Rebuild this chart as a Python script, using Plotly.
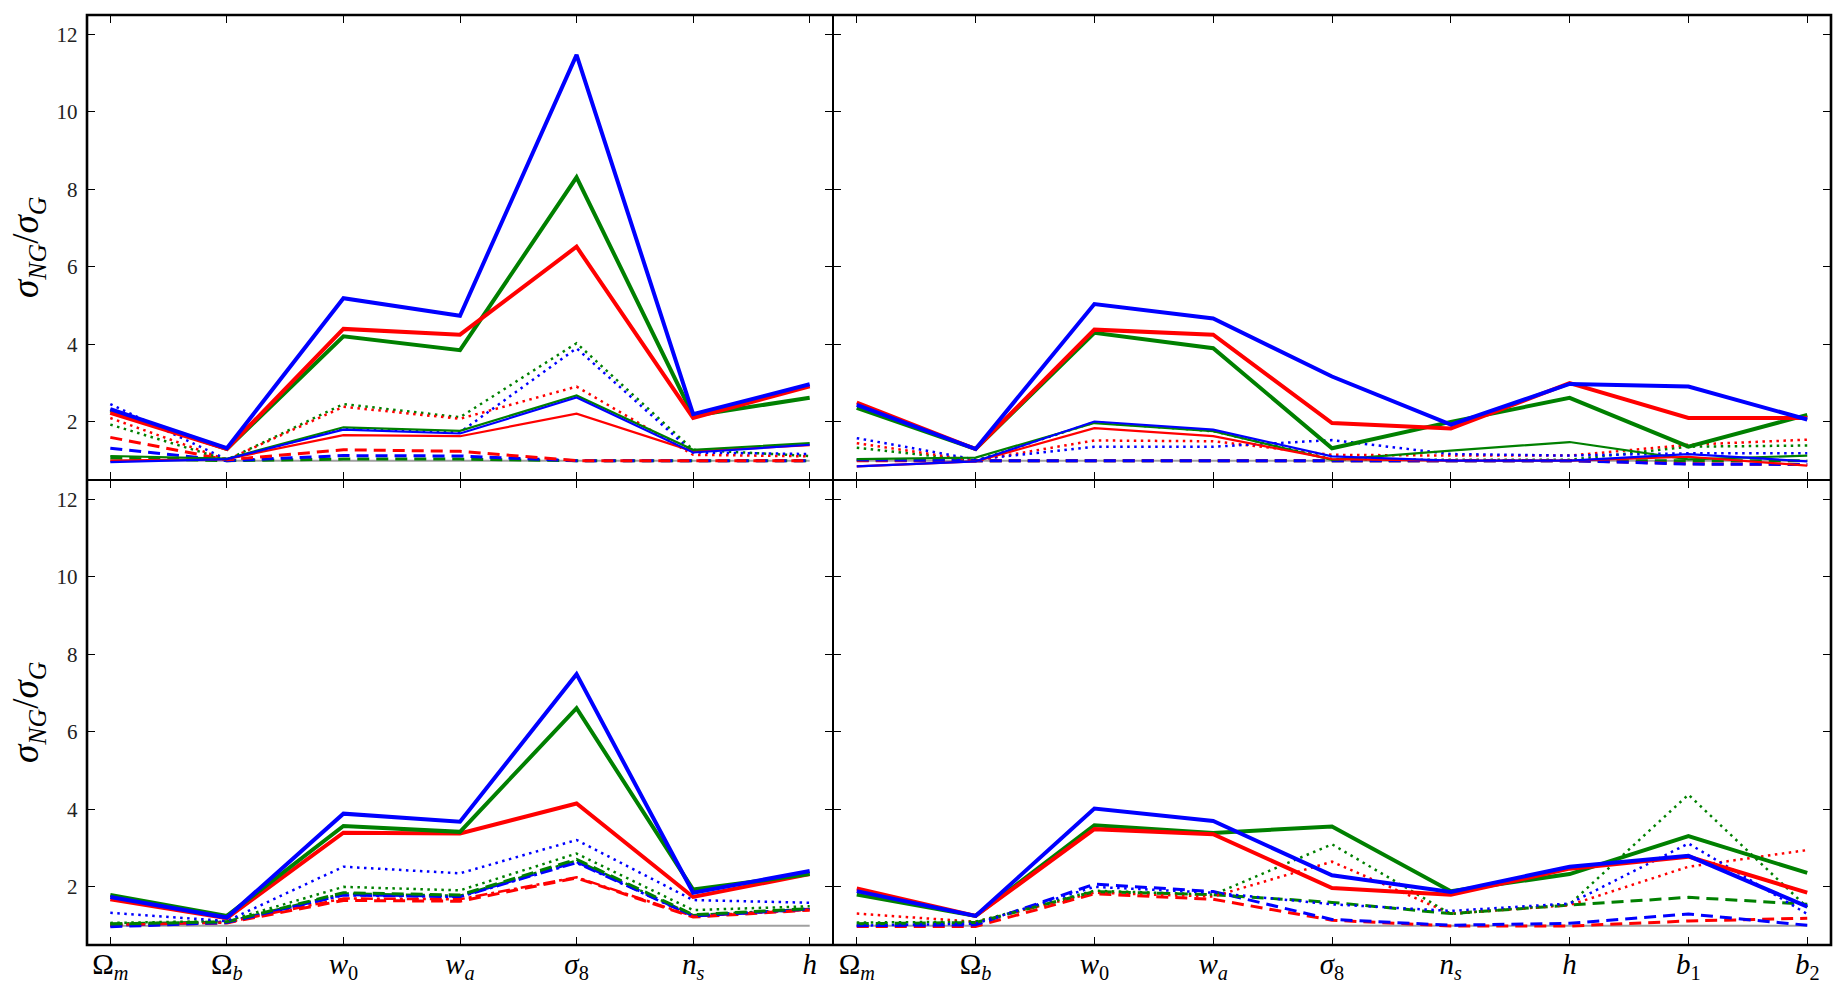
import plotly.graph_objects as go
from plotly.subplots import make_subplots

# ---------------- categories ----------------
cats7 = ["Ω<sub><i>m</i></sub>", "Ω<sub><i>b</i></sub>", "<i>w</i><sub>0</sub>",
         "<i>w</i><sub><i>a</i></sub>", "<i>σ</i><sub>8</sub>", "<i>n</i><sub><i>s</i></sub>",
         "<i>h</i>"]
cats9 = cats7 + ["<i>b</i><sub>1</sub>", "<i>b</i><sub>2</sub>"]

yticks = [2, 4, 6, 8, 10, 12]

# ---------------- top-left panel ----------------
tl_ref = [1.0] * 7
tl_thick_green = [2.30, 1.30, 4.21, 3.85, 8.31, 2.16, 2.62]
tl_thick_red = [2.23, 1.30, 4.40, 4.25, 6.52, 2.10, 2.92]
tl_thick_blue = [2.33, 1.32, 5.19, 4.74, 11.47, 2.20, 2.97]
tl_thin_green = [1.12, 1.05, 1.86, 1.77, 2.68, 1.28, 1.45]
tl_thin_red = [1.00, 1.04, 1.66, 1.63, 2.21, 1.24, 1.40]
tl_thin_blue = [0.96, 1.04, 1.80, 1.70, 2.63, 1.21, 1.41]
tl_dot_green = [1.93, 1.02, 2.46, 2.12, 4.03, 1.28, 1.12]
tl_dot_red = [2.10, 1.02, 2.39, 2.08, 2.91, 1.15, 1.11]
tl_dot_blue = [2.46, 1.03, 1.83, 1.73, 3.90, 1.21, 1.17]
tl_dash_green = [1.07, 1.00, 1.04, 1.04, 1.00, 1.00, 1.00]
tl_dash_red = [1.60, 1.02, 1.28, 1.24, 1.00, 1.00, 1.00]
tl_dash_blue = [1.32, 1.00, 1.13, 1.12, 1.00, 1.00, 1.00]

# ---------------- top-right panel ----------------
tr_ref = [1.0] * 9
tr_thick_green = [2.36, 1.30, 4.30, 3.90, 1.32, 2.00, 2.62, 1.36, 2.18]
tr_thick_red = [2.50, 1.30, 4.38, 4.25, 1.97, 1.83, 3.00, 2.10, 2.10]
tr_thick_blue = [2.44, 1.30, 5.04, 4.67, 3.17, 1.93, 2.98, 2.91, 2.06]
tr_thin_green = [1.04, 1.08, 1.97, 1.76, 1.02, 1.26, 1.48, 1.03, 1.13]
tr_thin_red = [0.85, 0.98, 1.84, 1.63, 1.04, 1.00, 1.00, 1.10, 0.87]
tr_thin_blue = [0.85, 0.98, 2.01, 1.80, 1.11, 1.00, 1.00, 1.17, 0.98]
tr_dot_green = [1.33, 1.00, 1.99, 1.76, 1.04, 1.02, 1.02, 1.36, 1.39]
tr_dot_red = [1.45, 1.00, 1.52, 1.50, 1.15, 1.13, 1.13, 1.41, 1.54]
tr_dot_blue = [1.58, 1.03, 1.36, 1.36, 1.53, 1.17, 1.13, 1.19, 1.19]
tr_dash_green = [1.02, 1.00, 1.00, 1.00, 1.00, 1.00, 1.00, 1.00, 1.00]
tr_dash_red = [1.00, 1.00, 1.00, 1.00, 1.00, 1.00, 1.00, 0.92, 0.90]
tr_dash_blue = [1.02, 1.00, 1.00, 1.00, 1.00, 1.00, 1.00, 0.91, 0.90]

# ---------------- bottom-left panel ----------------
bl_ref = [1.0] * 7
bl_thick_green = [1.79, 1.25, 3.57, 3.42, 6.61, 1.93, 2.33]
bl_thick_red = [1.68, 1.19, 3.40, 3.38, 4.15, 1.74, 2.33]
bl_thick_blue = [1.74, 1.21, 3.89, 3.68, 7.49, 1.85, 2.41]
bl_dot_green = [1.07, 1.12, 2.00, 1.91, 2.86, 1.40, 1.50]
bl_dot_blue = [1.33, 1.12, 2.52, 2.35, 3.21, 1.66, 1.59]
bl_dash_green = [1.04, 1.10, 1.85, 1.79, 2.71, 1.28, 1.44]
bl_dash_red = [1.00, 1.07, 1.65, 1.63, 2.23, 1.22, 1.40]
bl_dash_blue = [0.97, 1.08, 1.80, 1.76, 2.65, 1.25, 1.43]
bl_dashdot_green = [1.05, 1.10, 1.83, 1.77, 2.68, 1.27, 1.43]
bl_dashdot_red = [1.02, 1.08, 1.70, 1.68, 2.25, 1.24, 1.41]
bl_dashdot_blue = [1.00, 1.09, 1.78, 1.74, 2.62, 1.24, 1.42]

# ---------------- bottom-right panel ----------------
br_ref = [1.0] * 9
br_thick_green = [1.80, 1.25, 3.59, 3.39, 3.56, 1.89, 2.33, 3.31, 2.36]
br_thick_red = [1.96, 1.25, 3.49, 3.36, 1.97, 1.80, 2.47, 2.78, 1.85]
br_thick_blue = [1.89, 1.25, 4.02, 3.70, 2.30, 1.87, 2.52, 2.80, 1.49]
br_dot_green = [1.08, 1.10, 1.90, 1.80, 3.10, 1.30, 1.55, 4.38, 1.47]
br_dot_red = [1.31, 1.10, 1.85, 1.75, 2.65, 1.31, 1.53, 2.52, 2.95]
br_dot_blue = [1.00, 1.05, 2.00, 1.85, 1.55, 1.38, 1.57, 3.12, 1.30]
br_dash_green = [1.05, 1.08, 1.88, 1.80, 1.60, 1.31, 1.53, 1.73, 1.55]
br_dash_red = [0.98, 0.98, 1.82, 1.68, 1.14, 0.99, 0.99, 1.12, 1.19]
br_dash_blue = [1.00, 1.02, 2.07, 1.88, 1.16, 1.01, 1.06, 1.30, 1.01]

# ---------------- styles ----------------
RED, GREEN, BLUE, GRAY = "#ff0000", "#008000", "#0000ff", "#a0a0a0"
STY = {
    "ref": dict(width=2, dash="solid"),
    "thick": dict(width=4, dash="solid"),
    "thin": dict(width=2.2, dash="solid"),
    "dot": dict(width=2.5, dash="2.5px,4.5px"),
    "dash": dict(width=3, dash="12px,7px"),
    "dashdot": dict(width=2.5, dash="12px,4px,3px,4px"),
}

fig = make_subplots(rows=2, cols=2, column_widths=[746, 998],
                    horizontal_spacing=0, vertical_spacing=0)


def add(row, col, cats, ys, style, color):
    fig.add_trace(go.Scatter(x=cats, y=ys, mode="lines",
                             line=dict(color=color, **STY[style]),
                             showlegend=False, hoverinfo="skip"),
                  row=row, col=col)


panels = [
    (1, 1, cats7, [("ref", GRAY, tl_ref),
                   ("dash", GREEN, tl_dash_green), ("dash", BLUE, tl_dash_blue), ("dash", RED, tl_dash_red),
                   ("dot", GREEN, tl_dot_green), ("dot", RED, tl_dot_red), ("dot", BLUE, tl_dot_blue),
                   ("thin", RED, tl_thin_red), ("thin", GREEN, tl_thin_green), ("thin", BLUE, tl_thin_blue),
                   ("thick", GREEN, tl_thick_green), ("thick", RED, tl_thick_red), ("thick", BLUE, tl_thick_blue)]),
    (1, 2, cats9, [("ref", GRAY, tr_ref),
                   ("dash", GREEN, tr_dash_green), ("dash", RED, tr_dash_red), ("dash", BLUE, tr_dash_blue),
                   ("dot", GREEN, tr_dot_green), ("dot", RED, tr_dot_red), ("dot", BLUE, tr_dot_blue),
                   ("thin", GREEN, tr_thin_green), ("thin", RED, tr_thin_red), ("thin", BLUE, tr_thin_blue),
                   ("thick", GREEN, tr_thick_green), ("thick", RED, tr_thick_red), ("thick", BLUE, tr_thick_blue)]),
    (2, 1, cats7, [("ref", GRAY, bl_ref),
                   ("dashdot", GREEN, bl_dashdot_green), ("dashdot", BLUE, bl_dashdot_blue),
                   ("dashdot", RED, bl_dashdot_red),
                   ("dash", RED, bl_dash_red), ("dash", BLUE, bl_dash_blue), ("dash", GREEN, bl_dash_green),
                   ("dot", GREEN, bl_dot_green), ("dot", BLUE, bl_dot_blue),
                   ("thick", RED, bl_thick_red), ("thick", GREEN, bl_thick_green), ("thick", BLUE, bl_thick_blue)]),
    (2, 2, cats9, [("ref", GRAY, br_ref),
                   ("dash", RED, br_dash_red), ("dash", BLUE, br_dash_blue), ("dash", GREEN, br_dash_green),
                   ("dot", RED, br_dot_red), ("dot", GREEN, br_dot_green), ("dot", BLUE, br_dot_blue),
                   ("thick", GREEN, br_thick_green), ("thick", RED, br_thick_red), ("thick", BLUE, br_thick_blue)]),
]

for row, col, cats, series in panels:
    for style, color, ys in series:
        add(row, col, cats, ys, style, color)

SERIF = "Liberation Serif, DejaVu Serif, serif"

for row in (1, 2):
    for col in (1, 2):
        n = 7 if col == 1 else 9
        fig.update_xaxes(type="category", range=[-0.2, n - 1 + 0.2], automargin=False,
                         showline=True, linecolor="black", linewidth=1.4, mirror="ticks",
                         ticks="inside", ticklen=8, tickwidth=1.2, tickcolor="black",
                         showgrid=False, zeroline=False,
                         showticklabels=(row == 2), ticklabelstandoff=-7,
                         tickfont=dict(family=SERIF, size=29, color="black"),
                         row=row, col=col)
        fig.update_yaxes(range=[0.5, 12.5], tickvals=yticks, automargin=False,
                         showline=True, linecolor="black", linewidth=1.4, mirror="ticks",
                         ticks="inside", ticklen=8, tickwidth=1.2, tickcolor="black",
                         showgrid=False, zeroline=False,
                         showticklabels=(col == 1), ticklabelstandoff=4,
                         tickfont=dict(family=SERIF, size=21, color="#222222"),
                         row=row, col=col)

# outer frame
fig.add_shape(type="rect", xref="paper", yref="paper", x0=0, x1=1, y0=0, y1=1,
              line=dict(color="black", width=2.6), fillcolor="rgba(0,0,0,0)", layer="above")

ytitle = "<i>σ</i><sub><i>NG</i></sub>/<i>σ</i><sub><i>G</i></sub>"
for yc in (0.75, 0.25):
    fig.add_annotation(text=ytitle, xref="paper", yref="paper", x=-0.0335, y=yc,
                       xanchor="center", yanchor="middle", textangle=-90, showarrow=False,
                       font=dict(family=SERIF, size=37, color="black"))

fig.update_layout(width=1847, height=995, autosize=False,
                  margin=dict(l=87, r=16, t=15, b=50),
                  plot_bgcolor="white", paper_bgcolor="white")

fig.write_html("out.html")
